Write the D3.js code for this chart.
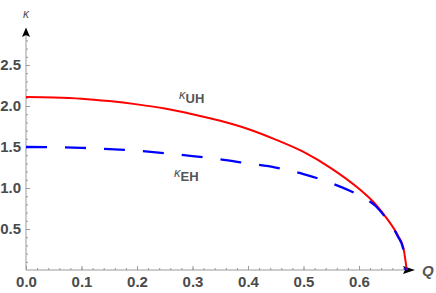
<!DOCTYPE html>
<html>
<head>
<meta charset="utf-8">
<script src="https://cdn.jsdelivr.net/npm/d3@7"></script>
<style>
  body { margin: 0; background: #fff; }
  svg { display: block; }
  .tick text { font-family: "Liberation Sans", Arial, sans-serif; font-weight: bold; font-size: 15px; fill: #4a4a4a; }
</style>
</head>
<body>
<svg id="plot"></svg>
<script>
// values
const qUH = [0, 0.05, 0.1, 0.15, 0.2, 0.25, 0.3, 0.35, 0.4, 0.45, 0.5, 0.55, 0.6, 0.63, 0.65, 0.67, 0.68, 0.686];
const kappaUH = [2.11, 2.105, 2.09, 2.06, 2.02, 1.97, 1.90, 1.82, 1.72, 1.59, 1.44, 1.24, 0.99, 0.80, 0.63, 0.42, 0.27, 0];
const qEH = [0, 0.05, 0.1, 0.15, 0.2, 0.25, 0.3, 0.35, 0.4, 0.45, 0.5, 0.55, 0.6, 0.63, 0.65, 0.67, 0.68, 0.684];
const kappaEH = [1.50, 1.497, 1.49, 1.475, 1.455, 1.425, 1.39, 1.35, 1.30, 1.25, 1.17, 1.06, 0.91, 0.78, 0.62, 0.41, 0.25, 0];

const xMajor = [0, 0.1, 0.2, 0.3, 0.4, 0.5, 0.6];
const xMinor = d3.range(0, 0.69, 0.02);
const yMajor = [0.5, 1.0, 1.5, 2.0, 2.5];
const yMinor = d3.range(0.1, 2.95, 0.1);

const width = 436, height = 293;

const svg = d3.select("#plot")
    .attr("width", width)
    .attr("height", height);

// scales
const x = d3.scaleLinear().domain([0, 0.7]).range([26, 414.5]);
const y = d3.scaleLinear().domain([0, 2.96]).range([270, 27.3]);

// axis lines
svg.append("line")
    .attr("x1", x(0)).attr("x2", x(0))
    .attr("y1", y(0)).attr("y2", y(2.9))
    .attr("stroke", "#ccc").attr("stroke-width", 2);
svg.append("line")
    .attr("x1", x(0)).attr("x2", x(0.69))
    .attr("y1", y(0)).attr("y2", y(0))
    .attr("stroke", "#999").attr("stroke-width", 1);

// minor ticks
svg.append("g")
    .attr("transform", "translate(0," + y(0) + ")")
    .call(d3.axisBottom(x).tickValues(xMinor).tickSize(-2).tickFormat(""))
    .call(g => g.select(".domain").remove())
    .call(g => g.selectAll("line").attr("stroke", "#999"));
svg.append("g")
    .attr("transform", "translate(" + x(0) + ",0)")
    .call(d3.axisLeft(y).tickValues(yMinor).tickSize(-2).tickFormat(""))
    .call(g => g.select(".domain").remove())
    .call(g => g.selectAll("line").attr("stroke", "#999"));

// major ticks + labels
svg.append("g")
    .attr("transform", "translate(0," + y(0) + ")")
    .call(d3.axisBottom(x).tickValues(xMajor).tickSize(-4).tickPadding(6).tickFormat(d3.format(".1f")))
    .call(g => g.select(".domain").remove())
    .call(g => g.selectAll("line").attr("stroke", "#999"));
svg.append("g")
    .attr("transform", "translate(" + x(0) + ",0)")
    .call(d3.axisLeft(y).tickValues(yMajor).tickSize(-4).tickPadding(5).tickFormat(d3.format(".1f")))
    .call(g => g.select(".domain").remove())
    .call(g => g.selectAll("line").attr("stroke", "#999"));

// arrows
svg.append("path")
    .attr("d", d3.line()([[x(0) - 4, 37], [x(0), 27.5], [x(0) + 4, 37], [x(0), 35]]) + "Z")
    .attr("fill", "#000");
svg.append("path")
    .attr("d", d3.line()([[403, y(0) - 4], [415, y(0)], [403, y(0) + 4], [405, y(0)]]) + "Z")
    .attr("fill", "#000");

// axis names
svg.append("text")
    .attr("x", x(0)).attr("y", 18)
    .attr("text-anchor", "middle")
    .attr("font-family", "Liberation Sans, Arial, sans-serif")
    .attr("font-style", "italic")
    .attr("font-size", 12)
    .attr("fill", "#555")
    .text("κ");
svg.append("text")
    .attr("x", 422).attr("y", 276)
    .attr("font-family", "Liberation Sans, Arial, sans-serif")
    .attr("font-style", "italic")
    .attr("font-weight", "bold")
    .attr("font-size", 15)
    .attr("fill", "#555")
    .text("Q");

// curves
const line = d3.line()
    .x(d => x(d[0]))
    .y(d => y(d[1]))
    .curve(d3.curveMonotoneX);

svg.append("path")
    .datum(qUH.map((q, i) => [q, kappaUH[i]]))
    .attr("d", line)
    .attr("fill", "none")
    .attr("stroke", "#ff0000")
    .attr("stroke-width", 2);

svg.append("path")
    .datum(qEH.map((q, i) => [q, kappaEH[i]]))
    .attr("d", line)
    .attr("fill", "none")
    .attr("stroke", "#0000ff")
    .attr("stroke-width", 2.3)
    .attr("stroke-dasharray", "21,18");

// curve labels
function curveLabel(px, py, sub) {
  const t = svg.append("text")
      .attr("x", px).attr("y", py)
      .attr("font-family", "Liberation Sans, Arial, sans-serif")
      .attr("font-size", 13)
      .attr("fill", "#555");
  t.append("tspan").attr("font-style", "italic").text("κ");
  t.append("tspan").attr("dy", 4).attr("font-size", 13).attr("font-weight", "bold").text(sub);
}
curveLabel(179, 99, "UH");
curveLabel(174, 177, "EH");
</script>
</body>
</html>
